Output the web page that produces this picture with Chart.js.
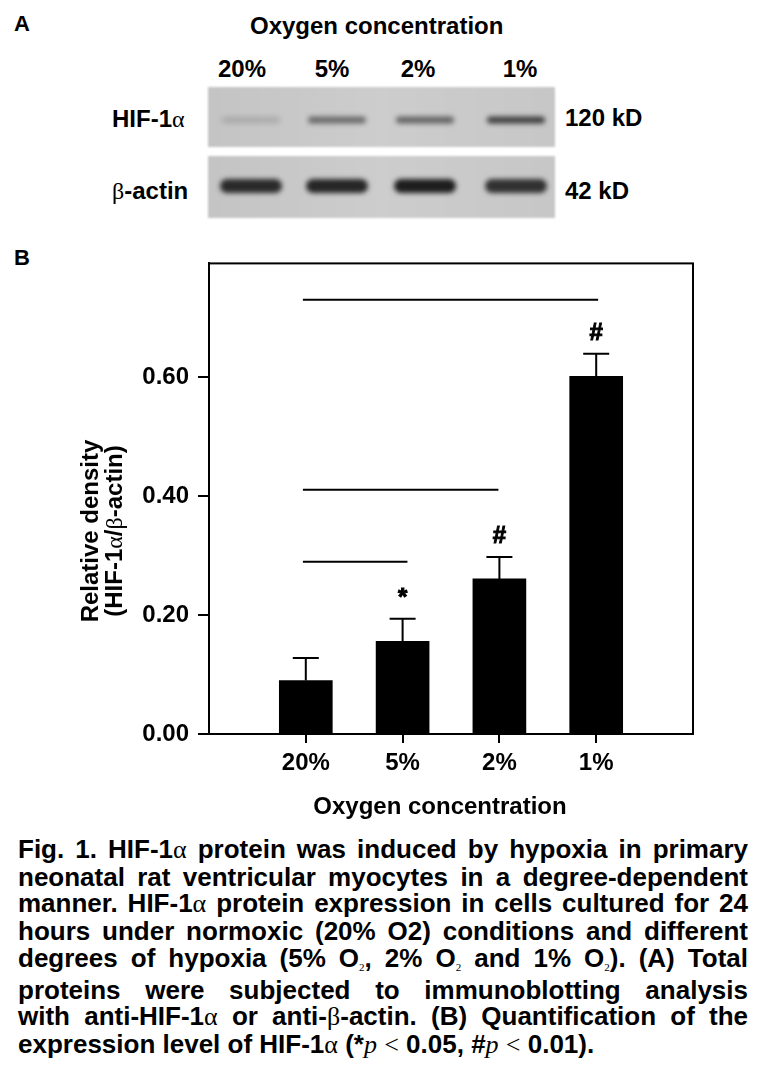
<!DOCTYPE html>
<html>
<head>
<meta charset="utf-8">
<script src="https://cdn.jsdelivr.net/npm/chart.js@4.4.0/dist/chart.umd.min.js"></script>
<style>
    body { margin: 0; background: #fff; width: 760px; height: 1068px; position: relative; overflow: hidden;
           font-family: "Liberation Sans", Arial, sans-serif; font-weight: bold; color: #000; }
    .t { position: absolute; white-space: nowrap; font-size: 24px; line-height: 24px; }
    .c { transform: translateX(-50%); }
    .g { font-family: "Liberation Serif", "Times New Roman", serif; font-weight: normal; }
    .p { font-family: "Liberation Serif", "Times New Roman", serif; font-weight: normal; font-style: italic; }
    #caption { position: absolute; left: 18px; top: 836px; width: 730px; font-size: 26px; line-height: 26.7px; }
    #caption div { white-space: nowrap; }
    sub { font-family: "Liberation Serif", serif; font-weight: normal; font-size: 11px; vertical-align: baseline; position: relative; top: 4px; }
</style>
</head>
<body>
<div class="t" style="left:14px;top:13px;font-size:22px;line-height:22px">A</div>
<div class="t" style="left:250px;top:14px">Oxygen concentration</div>
<div class="t c" style="left:242px;top:57px">20%</div>
<div class="t c" style="left:332px;top:57px">5%</div>
<div class="t c" style="left:418px;top:57px">2%</div>
<div class="t c" style="left:520px;top:57px">1%</div>
<div class="t" style="left:112px;top:107px">HIF-1<span class="g">α</span></div>
<div class="t" style="left:112px;top:179px"><span class="g">β</span>-actin</div>
<div class="t" style="left:565px;top:106px">120 kD</div>
<div class="t" style="left:565px;top:179px">42 kD</div>
<canvas id="blot" width="370" height="150" style="position:absolute;left:200px;top:78px"></canvas>

<div class="t" style="left:14px;top:247px;font-size:22px;line-height:22px">B</div>
<canvas id="chart" width="760" height="580" style="position:absolute;left:0;top:240px"></canvas>
<div class="t" style="left:-8px;top:507px;width:220px;height:48px;text-align:center;transform:rotate(-90deg)">Relative density<br>(HIF-1<span class="g">α</span>/<span class="g">β</span>-actin)</div>
<div class="t c" style="left:440px;top:794px">Oxygen concentration</div>

<div id="caption">
    <div class="j"><span>Fig. 1. HIF-1<span class="g">α</span> protein was induced by hypoxia in primary</span></div>
    <div class="j"><span>neonatal rat ventricular myocytes in a degree-dependent</span></div>
    <div class="j"><span>manner. HIF-1<span class="g">α</span> protein expression in cells cultured for 24</span></div>
    <div class="j"><span>hours under normoxic (20% O2) conditions and different</span></div>
    <div class="j"><span>degrees of hypoxia (5% O<sub>2</sub>, 2% O<sub>2</sub> and 1% O<sub>2</sub>). (A) Total</span></div>
    <div class="j"><span>proteins were subjected to immunoblotting analysis</span></div>
    <div class="j"><span>with anti-HIF-1<span class="g">α</span> or anti-<span class="g">β</span>-actin. (B) Quantification of the</span></div>
    <div><span>expression level of HIF-1<span class="g">α</span> (*<span class="p">p</span> <span class="g">&lt;</span> 0.05, #<span class="p">p</span> <span class="g">&lt;</span> 0.01).</span></div>
</div>

<script>
// bar chart data (panel B)
const categories = ['20%', '5%', '2%', '1%'];
const positions = [1, 2, 3, 4];
const density = [0.090, 0.156, 0.261, 0.602];
const sem = [0.038, 0.038, 0.037, 0.038];
const marks = ['', '*', '#', '#'];
const yTicks = [0, 0.2, 0.4, 0.6];

// comparison lines above the bars
const bracketStart = [0.97, 0.97, 0.97];
const bracketEnd = [2.05, 2.99, 4.02];
const bracketLevel = [0.290, 0.411, 0.731];

// western blot bands (panel A), darkness 0..1
const laneX = [251, 337, 425, 516];
const hifBand = [0.14, 0.52, 0.56, 0.76];
const actinBand = [0.88, 0.9, 0.95, 0.84];

// ---- blot ----
const bctx = document.getElementById('blot').getContext('2d');
const ox = 200, oy = 78;

function strip(top, h) {
    bctx.filter = 'blur(1px)';
    const grad = bctx.createLinearGradient(208 - ox, 0, 555 - ox, 0);
    grad.addColorStop(0, '#c4c4c4');
    grad.addColorStop(0.5, '#cdcdcd');
    grad.addColorStop(1, '#c7c7c7');
    bctx.fillStyle = grad;
    bctx.fillRect(208 - ox, top - oy, 347, h);
}

function band(cx, cy, w, h, d) {
    bctx.filter = 'blur(2.5px)';
    bctx.fillStyle = `rgba(20,20,20,${d})`;
    bctx.beginPath();
    bctx.roundRect(cx - w / 2 - ox, cy - h / 2 - oy, w, h, h / 2);
    bctx.fill();
}

strip(87, 60);
strip(156, 62);
hifBand.forEach((d, i) => band(laneX[i], 120, 58, 7, d));
actinBand.forEach((d, i) => band(laneX[i], 186, 62, 14, d));

// ---- chart ----
const font = { family: '"Liberation Sans", Arial, sans-serif', size: 24, weight: 'bold' };

const errorBars = {
    id: 'errorBars',
    afterDatasetsDraw(chart) {
        const { ctx, chartArea: a, scales: { x, y } } = chart;
        ctx.save();
        ctx.strokeStyle = '#000';
        ctx.lineWidth = 2;
        ctx.strokeRect(a.left, a.top, a.right - a.left, a.bottom - a.top);
        ctx.font = 'bold 24px "Liberation Sans", Arial, sans-serif';
        ctx.textAlign = 'center';
        ctx.fillStyle = '#000';
        density.forEach((v, i) => {
            const px = x.getPixelForValue(positions[i]);
            const y0 = y.getPixelForValue(v);
            const y1 = y.getPixelForValue(v + sem[i]);
            ctx.lineWidth = 2;
            ctx.beginPath();
            ctx.moveTo(px, y0);
            ctx.lineTo(px, y1);
            ctx.moveTo(px - 13, y1);
            ctx.lineTo(px + 13, y1);
            ctx.stroke();
            if (marks[i]) {
                ctx.fillText(marks[i], px, y1 - 14);
                ctx.lineWidth = 1;
                ctx.strokeText(marks[i], px, y1 - 14);
            }
        });
        ctx.restore();
    }
};

const lineSets = bracketLevel.map((lv, i) => ({
    type: 'line',
    data: [{ x: bracketStart[i], y: lv }, { x: bracketEnd[i], y: lv }],
    borderColor: '#000',
    borderWidth: 2,
    pointRadius: 0
}));

new Chart(document.getElementById('chart'), {
    type: 'bar',
    data: {
        datasets: [{
            data: positions.map((p, i) => ({ x: p, y: density[i] })),
            backgroundColor: '#000',
            borderWidth: 0,
            barThickness: 53
        }, ...lineSets]
    },
    options: {
        responsive: false,
        animation: false,
        devicePixelRatio: 1,
        layout: { padding: { top: 11, right: 67, left: 0, bottom: 0 } },
        plugins: { legend: { display: false }, tooltip: { enabled: false } },
        scales: {
            x: {
                type: 'linear', min: 0, max: 5, offset: false,
                afterBuildTicks: s => { s.ticks = positions.map(v => ({ value: v })); },
                afterFit: s => { s.height = 86; },
                grid: { offset: false, drawOnChartArea: false, color: '#000', lineWidth: 2, tickLength: 9 },
                border: { color: '#000', width: 2 },
                ticks: { color: '#000', font, padding: 6, maxRotation: 0, autoSkip: false,
                         callback: v => categories[positions.indexOf(v)] ?? '' }
            },
            y: {
                min: 0, max: 0.792,
                afterBuildTicks: s => { s.ticks = yTicks.map(v => ({ value: v })); },
                afterFit: s => { s.width = 209; },
                grid: { drawOnChartArea: false, color: '#000', lineWidth: 2, tickLength: 11 },
                border: { color: '#000', width: 2 },
                ticks: { color: '#000', font, padding: 9, callback: v => v.toFixed(2) }
            }
        }
    },
    plugins: [errorBars]
});

// ---- caption justification, line breaks kept as in the figure ----
document.querySelectorAll('#caption .j').forEach(line => {
    const span = line.firstElementChild;
    const gaps = (span.textContent.match(/ /g) || []).length;
    const w = span.getBoundingClientRect().width;
    if (gaps) line.style.wordSpacing = ((730 - w) / gaps) + 'px';
});
</script>
</body>
</html>
